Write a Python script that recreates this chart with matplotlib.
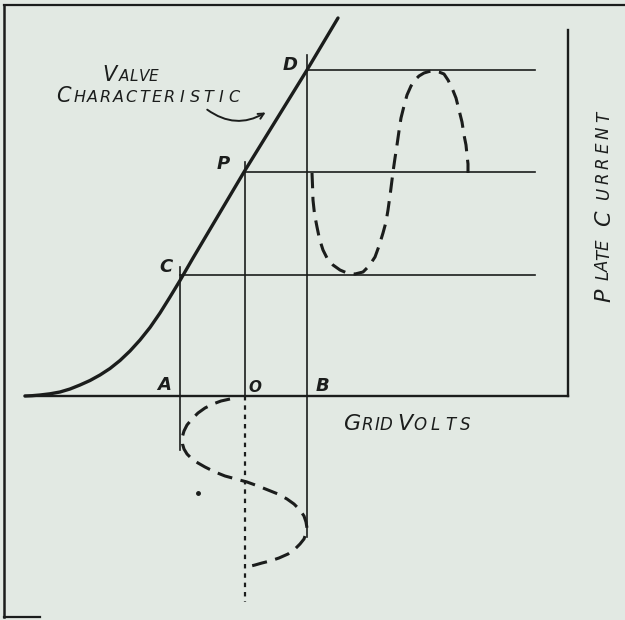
import numpy as np
import matplotlib.pyplot as plt

# everything is measured in the units of the drawing (origin top left, y down)
ink = '#1b1d1c'
paper = '#e2e9e3'

# valve characteristic (grid volts -> plate current)
char_x = [25, 32, 40, 50, 60, 70, 80, 90, 100, 110, 120, 130, 140, 150,
          160, 170, 180, 193, 244, 307, 338]
char_y = [396, 395.7, 395, 393.8, 392, 389, 385, 380.5, 375, 368.5, 360.5,
          351, 340, 327.5, 313, 297, 280.5, 258, 172, 70, 18]

# grid volts swing A..B about O, and plate current swing C..D about P
grid_a, grid_o, grid_b = 180, 245, 307
level_d, level_p, level_c = 70, 172, 275
axis_y = 396
axis_right = 568

# dashed plate current wave
plate_x = [312, 312.5, 313, 314.5, 317, 319.5, 323, 327, 333, 340, 347, 355,
           363, 369, 375, 379, 383, 386, 388, 390.5, 393, 395, 397, 399, 401,
           404, 407, 411, 415, 419, 424, 429, 434, 439, 444, 448, 452, 456,
           459, 462, 464, 466, 467, 468, 468]
plate_y = [173, 185, 200, 214, 227, 239, 250, 258, 265, 270, 273, 274,
           272, 266, 257, 246, 233, 222, 210, 192, 172, 158, 145, 131, 118,
           106, 95, 86, 80, 76, 73, 71.5, 71, 72, 74, 80, 88, 98,
           110, 122, 135, 145, 155, 164, 173]

# dashed grid voltage wave (below the axis)
grid_x = [230, 221, 213, 205, 198, 192, 187, 184, 182, 182.5, 184, 187, 192,
          198, 205, 215, 225, 236, 247, 258, 268, 278, 287, 294, 300, 304,
          306, 307, 306, 304, 300, 295, 288, 279, 270, 262, 255, 247]
grid_y = [399, 401, 404, 408, 413, 419, 425, 431, 438, 444, 449, 454, 459,
          463, 467, 472, 476, 479, 482, 486, 490, 494, 499, 504, 510, 516,
          522, 528, 533, 539, 544, 549, 554, 558, 561, 563, 565, 567]

fig = plt.figure(figsize=(6.25, 6.2), dpi=100, facecolor=paper)
ax = fig.add_axes([0, 0, 1, 1])
ax.set_facecolor(paper)
ax.set_xlim(0, 625)
ax.set_ylim(620, 0)
ax.axis('off')

# frame of the plate
ax.plot([4, 4], [5, 617], color=ink, lw=1.8)
ax.plot([4, 625], [5, 5], color=ink, lw=1.6)
ax.plot([4, 40], [617, 617], color=ink, lw=1.6)

# axes
ax.plot([25, axis_right], [axis_y, axis_y], color=ink, lw=1.7)
ax.plot([axis_right, axis_right], [30, axis_y], color=ink, lw=1.7)

# characteristic
ax.plot(char_x, char_y, color=ink, lw=2.4, solid_capstyle='round')

# projection lines
ax.plot([grid_a, grid_a], [level_c - 8, 450], color=ink, lw=1.2)
ax.plot([grid_o, grid_o], [level_p - 10, axis_y], color=ink, lw=1.2)
ax.plot([grid_o, grid_o], [axis_y, 602], color=ink, lw=1.6, ls=(0, (2, 2.2)))
ax.plot([grid_b, grid_b], [level_d - 15, 537], color=ink, lw=1.2)
for xs, lev in [(grid_b, level_d), (grid_o, level_p), (grid_a, level_c)]:
    ax.plot([xs, 535], [lev, lev], color=ink, lw=1.2)

# swings
ax.plot(plate_x, plate_y, color=ink, lw=2.2, ls=(0, (5, 2.8)))
ax.plot(grid_x, grid_y, color=ink, lw=2.2, ls=(0, (5, 2.8)))
ax.plot([198], [493], marker='o', ms=2.5, color=ink)

# point letters
pts = {'D': (290, 65), 'P': (223, 164), 'C': (166, 267),
       'A': (164, 385), 'O': (255, 387), 'B': (323, 386)}
for k, (px, py) in pts.items():
    ax.text(px, py, k, fontsize=13 if k != 'O' else 11, style='italic',
            fontweight='bold', color=ink, ha='center', va='center')


def lettering(word, c0, c1, step, base, big, small, vertical=False):
    for i, ch in enumerate(word):
        pos = c0 if i == 0 else c1 + (i - 1) * step
        size = big if i == 0 else small
        if vertical:
            ax.text(base, pos, ch, fontsize=size, style='italic', color=ink,
                    rotation=90, ha='right', va='center', rotation_mode='anchor')
        else:
            ax.text(pos, base, ch, fontsize=size, style='italic', color=ink,
                    ha='center', va='baseline')


lettering('VALVE', 110, 124, 9.8, 81, 15, 11)
lettering('CHARACTERISTIC', 63, 80, 12.8, 102, 15, 11.5)
lettering('GRID', 353, 367, 9.5, 430, 16, 12)
lettering('VOLTS', 405, 420, 15, 430, 16, 12)
lettering('PLATE', 289, 271, -10.5, 604, 16, 12, vertical=True)
lettering('CURRENT', 210, 188, -15.3, 604, 16, 12, vertical=True)

# hooked arrow pointing at the curve
ax.annotate('', xy=(268, 111), xytext=(205, 108),
            arrowprops=dict(arrowstyle='->', color=ink, lw=1.4,
                            connectionstyle='arc3,rad=0.35'))

plt.savefig('out.png', dpi=100, facecolor=paper)
